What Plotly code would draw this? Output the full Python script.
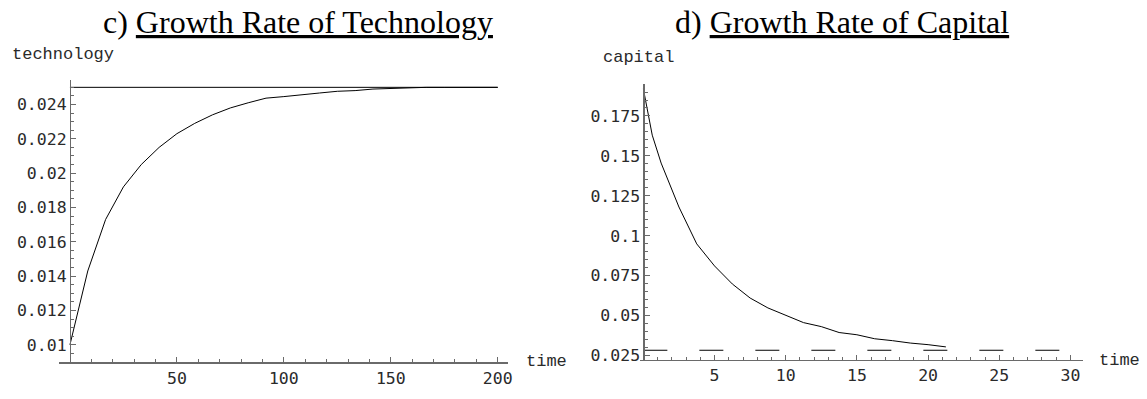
import plotly.graph_objects as go

# ---- data ----
tech_time = [0, 8.33, 16.67, 25, 33.33, 41.67, 50, 58.33, 66.67, 75, 83.33, 91.67, 100,
             108.33, 116.67, 125, 133.33, 141.67, 150, 158.33, 166.67, 175, 183.33, 191.67, 200]
tech_rate = [0.0100, 0.0143, 0.0173, 0.0192, 0.0205, 0.0215, 0.0223, 0.0229, 0.0234, 0.0238,
             0.0241, 0.02437, 0.02446, 0.02458, 0.02467, 0.02477, 0.02481, 0.0249, 0.02494,
             0.02494, 0.0250, 0.0250, 0.0250, 0.0250, 0.0250]
tech_steady_time = [0, 200]
tech_steady = [0.025, 0.025]

cap_time = [0, 0.625, 1.25, 2.5, 3.75, 5, 6.25, 7.5, 8.75, 10, 11.25, 12.5, 13.75, 15,
            16.25, 17.5, 18.75, 20, 21.25]
cap_rate = [0.192, 0.163, 0.1455, 0.118, 0.0949, 0.0811, 0.0698, 0.0610, 0.0548, 0.0503,
            0.0456, 0.0431, 0.0394, 0.0380, 0.0355, 0.0343, 0.0328, 0.0318, 0.0304]
cap_steady_time = [0, 30]
cap_steady = [0.0283, 0.0283]

tech_xticks = [50, 100, 150, 200]
tech_xticklabels = ["50", "100", "150", "200"]
tech_yticks = [0.010, 0.012, 0.014, 0.016, 0.018, 0.020, 0.022, 0.024]
tech_yticklabels = ["0.01", "0.012", "0.014", "0.016", "0.018", "0.02", "0.022", "0.024"]
cap_xticks = [5, 10, 15, 20, 25, 30]
cap_xticklabels = ["5", "10", "15", "20", "25", "30"]
cap_yticks = [0.025, 0.05, 0.075, 0.1, 0.125, 0.15, 0.175]
cap_yticklabels = ["0.025", "0.05", "0.075", "0.1", "0.125", "0.15", "0.175"]

titles = ["c) <u>Growth Rate of Technology</u>", "d) <u>Growth Rate of Capital</u>"]
ylabels = ["technology", "capital"]
xlabel = "time"

# ---- layout geometry ----
W, H = 1147, 399
MONO = "Liberation Mono"
TICKMONO = "DejaVu Sans Mono"
SERIF = "Liberation Serif"
AXCOL = "#6a6a6a"
TXT = "#2a2a2a"


def px_x(p):
    return p / W


def px_y(p):
    return 1 - p / H


fig = go.Figure()

line = dict(color="black", width=1)
fig.add_trace(go.Scatter(x=tech_time, y=tech_rate, mode="lines", line=line,
                         xaxis="x", yaxis="y", showlegend=False, hoverinfo="skip"))
fig.add_trace(go.Scatter(x=tech_steady_time, y=tech_steady, mode="lines", line=line,
                         xaxis="x", yaxis="y", showlegend=False, hoverinfo="skip"))
fig.add_trace(go.Scatter(x=cap_time, y=cap_rate, mode="lines", line=line,
                         xaxis="x2", yaxis="y2", showlegend=False, hoverinfo="skip"))
fig.add_trace(go.Scatter(x=cap_steady_time, y=cap_steady, mode="lines",
                         line=dict(color="black", width=1, dash="24px,32px"),
                         xaxis="x2", yaxis="y2", showlegend=False, hoverinfo="skip"))

tickfont = dict(family=TICKMONO, size=16.5, color=TXT)


def xaxis(domain, rng, tv, tt, minor_vals, anchor):
    return dict(domain=domain, range=rng, anchor=anchor, showgrid=False, zeroline=False,
                showline=True, linecolor=AXCOL, linewidth=1.5,
                tickmode="array", tickvals=tv, ticktext=tt, ticks="inside", ticklen=5,
                tickwidth=1, tickcolor=AXCOL, tickfont=tickfont,
                minor=dict(tickvals=minor_vals, ticks="inside", ticklen=3, tickwidth=1,
                           tickcolor=AXCOL, showgrid=False))


def yaxis(domain, rng, tv, tt, minor_vals, pos):
    return dict(domain=domain, range=rng, anchor="free", position=pos, showgrid=False,
                zeroline=False, showline=True, linecolor=AXCOL, linewidth=1.5,
                tickmode="array", tickvals=tv, ticktext=tt, ticks="inside", ticklen=5,
                tickwidth=1, tickcolor=AXCOL, tickfont=tickfont,
                minor=dict(tickvals=minor_vals, ticks="inside", ticklen=3, tickwidth=1,
                           tickcolor=AXCOL, showgrid=False))


tech_xminor = [10, 20, 30, 40, 60, 70, 80, 90, 110, 120, 130, 140, 160, 170, 180, 190]
tech_yminor = [0.0095, 0.0105, 0.011, 0.0115, 0.0125, 0.013, 0.0135, 0.0145, 0.015, 0.0155,
               0.0165, 0.017, 0.0175, 0.0185, 0.019, 0.0195, 0.0205, 0.021, 0.0215,
               0.0225, 0.023, 0.0235, 0.0245, 0.025]
cap_xminor = [1, 2, 3, 4, 6, 7, 8, 9, 11, 12, 13, 14, 16, 17, 18, 19, 21, 22, 23, 24,
              26, 27, 28, 29]
cap_yminor = [0.03, 0.035, 0.04, 0.045, 0.055, 0.06, 0.065, 0.07, 0.08, 0.085, 0.09, 0.095,
              0.105, 0.11, 0.115, 0.12, 0.13, 0.135, 0.14, 0.145, 0.155, 0.16, 0.165, 0.17,
              0.18, 0.185, 0.19, 0.195]

fig.update_layout(
    width=W, height=H, autosize=False,
    margin=dict(l=0, r=0, t=0, b=0),
    paper_bgcolor="white", plot_bgcolor="white",
    showlegend=False,
    xaxis=xaxis([px_x(59.3), px_x(510)], [-5.1, 204.7], tech_xticks, tech_xticklabels,
                tech_xminor, "y"),
    yaxis=yaxis([px_y(368), px_y(81.7)], [0.00897, 0.0254], tech_yticks, tech_yticklabels,
                tech_yminor, px_x(70.2)),
    xaxis2=xaxis([px_x(643.3), px_x(1087.3)], [-0.2, 30.85], cap_xticks, cap_xticklabels,
                 cap_xminor, "y2"),
    yaxis2=yaxis([px_y(365), px_y(85)], [0.0225, 0.1952], cap_yticks, cap_yticklabels,
                 cap_yminor, px_x(646.2)),
)

ann = []
ann.append(dict(text=titles[0], x=px_x(299), y=px_y(22), xref="paper", yref="paper",
                xanchor="center", yanchor="middle", showarrow=False,
                font=dict(family=SERIF, size=32, color="black")))
ann.append(dict(text=titles[1], x=px_x(846), y=px_y(22), xref="paper", yref="paper",
                xanchor="center", yanchor="middle", showarrow=False,
                font=dict(family=SERIF, size=32, color="black")))
lab_font = dict(family=MONO, size=17, color=TXT)
ann.append(dict(text=ylabels[0], x=px_x(10), y=px_y(55), xref="paper", yref="paper",
                xanchor="left", yanchor="middle", showarrow=False, font=lab_font))
ann.append(dict(text=ylabels[1], x=px_x(604), y=px_y(58), xref="paper", yref="paper",
                xanchor="left", yanchor="middle", showarrow=False, font=lab_font))
ann.append(dict(text=xlabel, x=px_x(526.5), y=px_y(367), xref="paper", yref="paper",
                xanchor="left", yanchor="middle", showarrow=False, font=lab_font))
ann.append(dict(text=xlabel, x=px_x(1147), y=px_y(366), xref="paper", yref="paper",
                xanchor="right", yanchor="middle", showarrow=False, font=lab_font))
fig.update_layout(annotations=ann)

fig.write_html(
    "out.html",
    config={"displayModeBar": False, "staticPlot": True},
    post_script="document.body.style.margin='0px';document.body.style.overflow='hidden';",
)
